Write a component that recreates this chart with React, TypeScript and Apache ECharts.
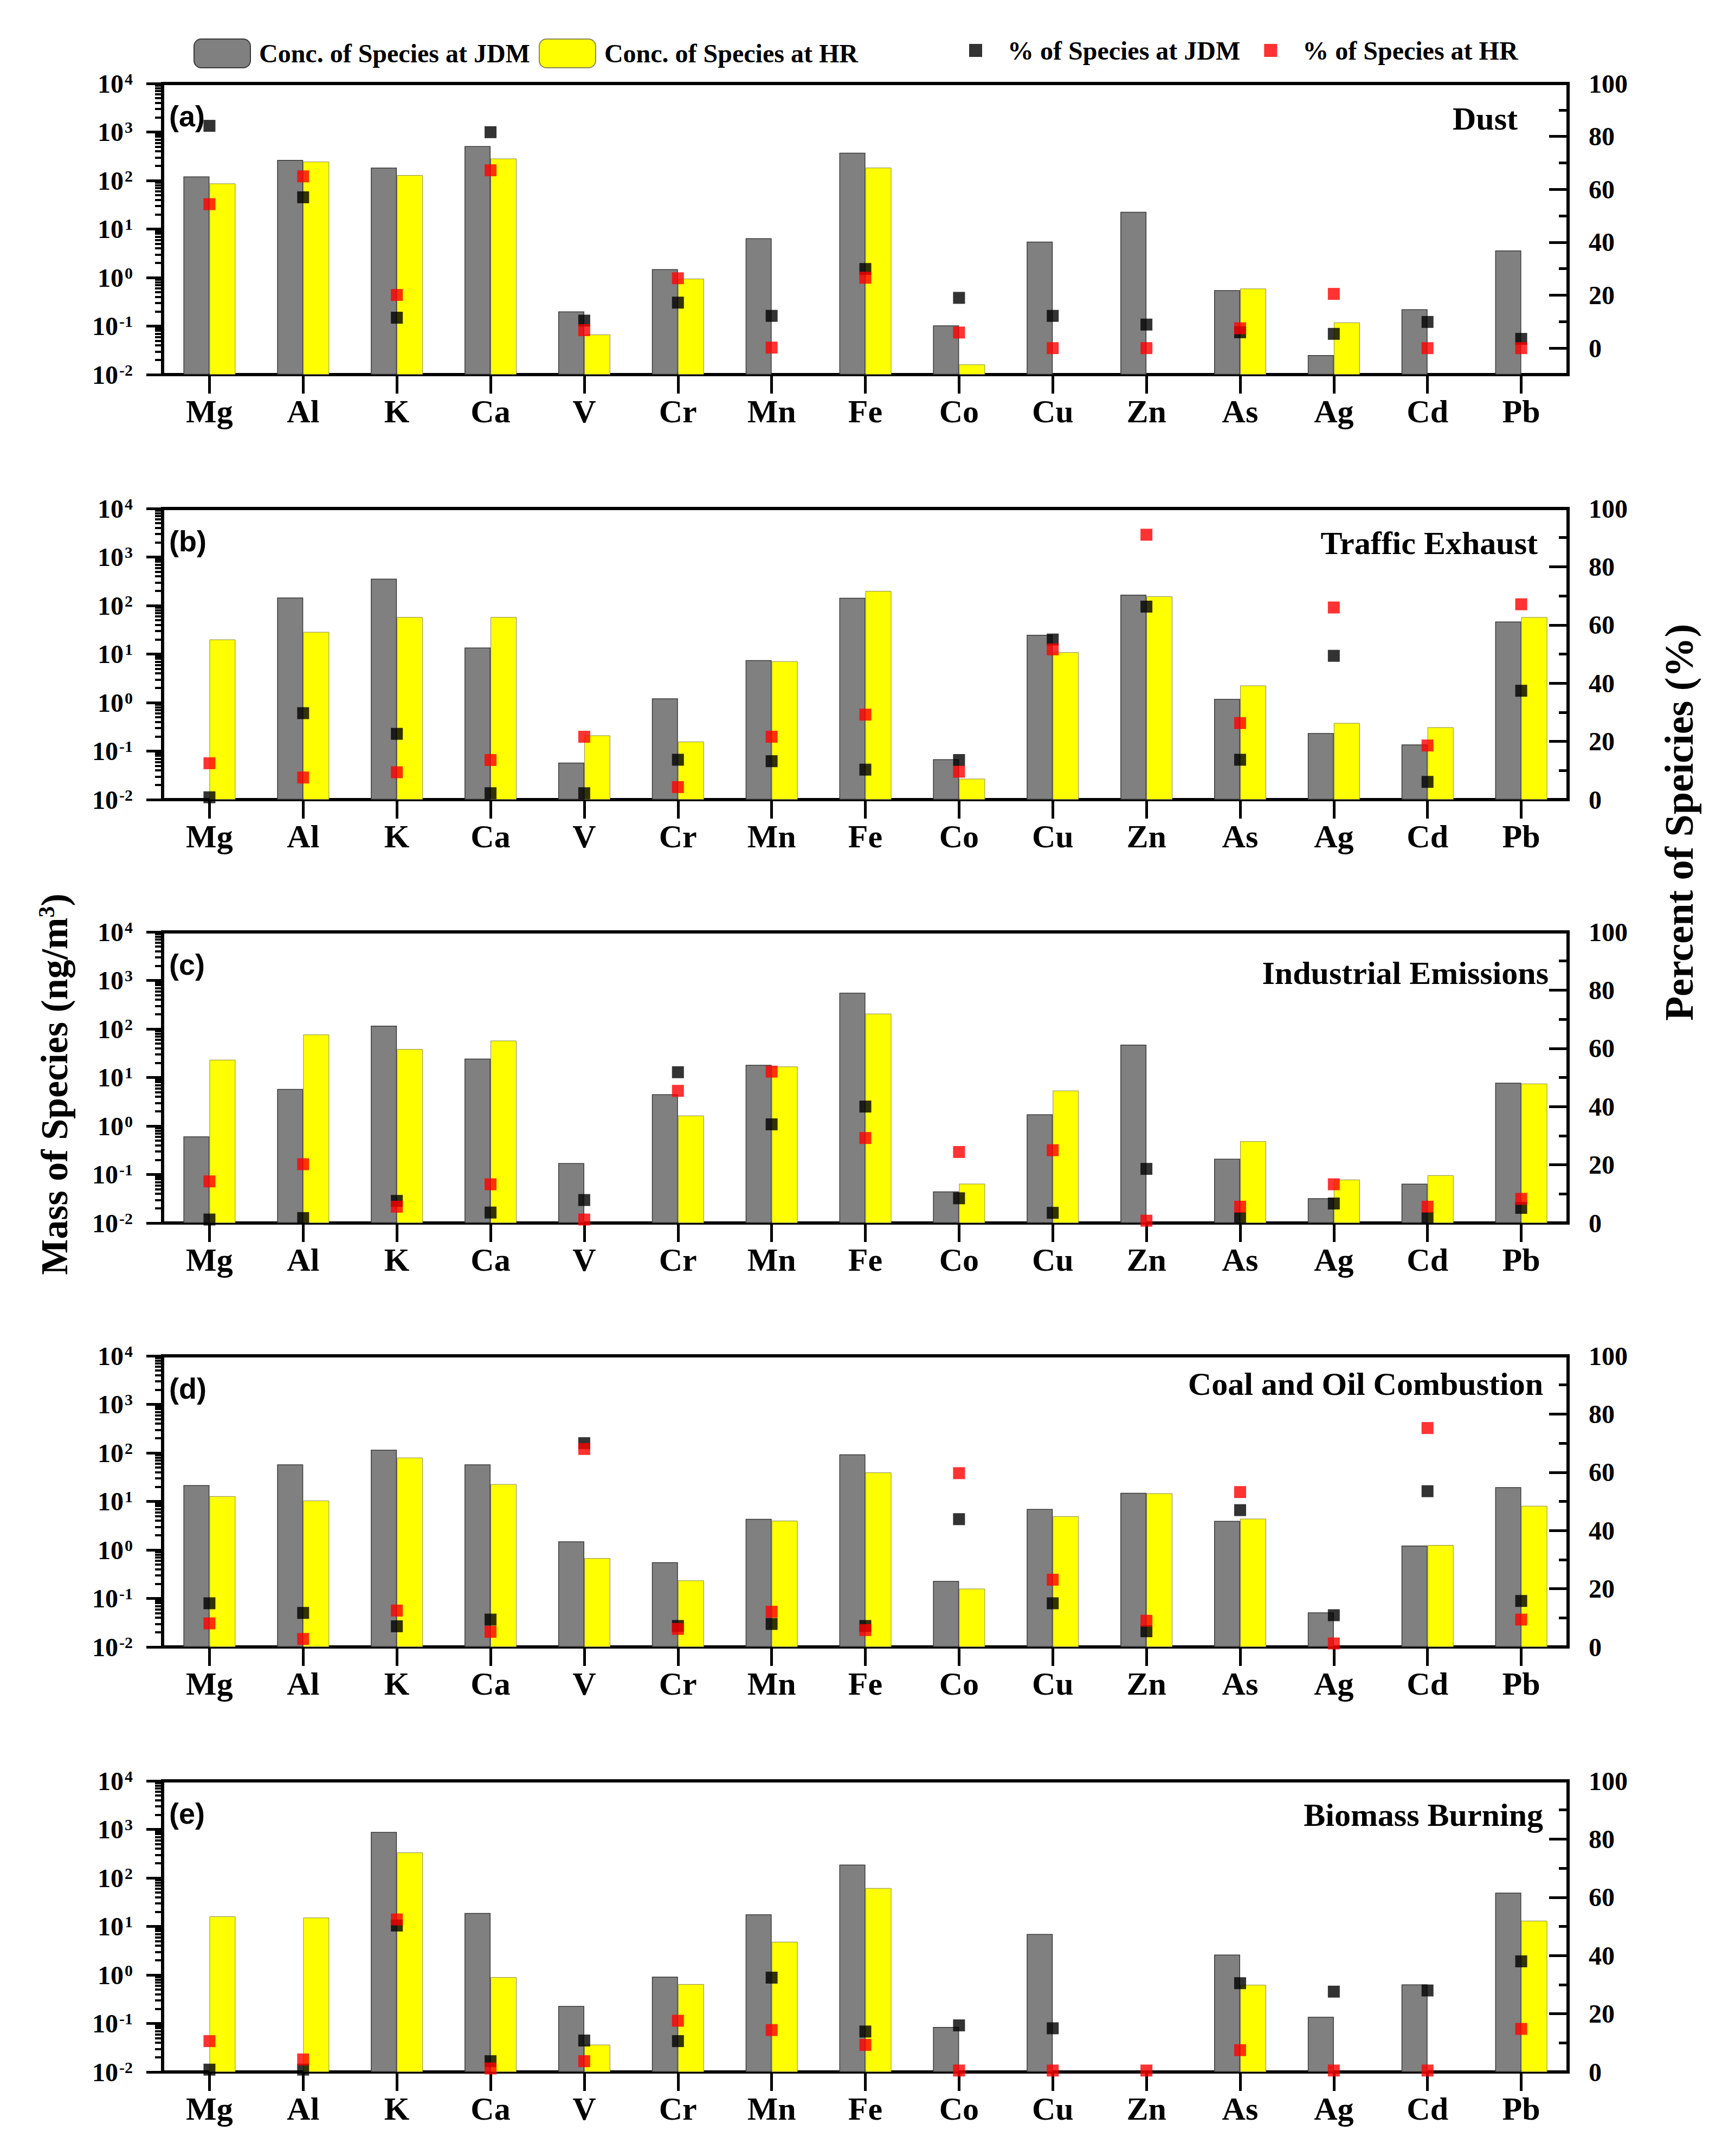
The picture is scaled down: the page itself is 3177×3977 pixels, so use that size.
import React, { useEffect, useRef } from "react";
import * as echarts from "echarts";

const categories = ["Mg", "Al", "K", "Ca", "V", "Cr", "Mn", "Fe", "Co", "Cu", "Zn", "As", "Ag", "Cd", "Pb"];
const panelLetters = ["(a)", "(b)", "(c)", "(d)", "(e)"];
const panelSources = ["Dust", "Traffic Exhaust", "Industrial Emissions", "Coal and Oil Combustion", "Biomass Burning"];
const legendBarNames = ["Conc. of Species at JDM", "Conc. of Species at HR"];
const legendPctNames = ["% of Species at JDM", "% of Species at HR"];
const logTickValues = [0.01, 0.1, 1, 10, 100, 1000, 10000];
const percentLabelValues = [0, 20, 40, 60, 80, 100];
const percentMajorTicks = [0, 20, 40, 60, 80];
const percentMinorTicks = [10, 30, 50, 70, 90];
const percentMin = [-10, 0, 0, 0, 0];

// (a) Dust
const concJDM_a = [121, 266, 184, 512, 0.2, 1.49, 6.44, 373, 0.103, 5.5, 22.6, 0.55, 0.0253, 0.222, 3.62];
const concHR_a = [87, 245, 129, 284, 0.067, 0.95, null, 184, 0.0162, null, null, 0.594, 0.119, null, null];
const pctJDM_a = [84, 57, 11.5, 81.6, 10.4, 17.2, 12.2, 29.9, 19, 12.2, 8.9, 6, 5.4, 9.9, 3.5];
const pctHR_a = [54.4, 64.9, 20.1, 67.2, 6.8, 26.4, 0.2, 26.6, 5.9, 0, 0, 7.5, 20.5, 0, 0];

// (b) Traffic Exhaust
const concJDM_b = [null, 146, 358, 13.6, 0.058, 1.22, 7.5, 144, 0.068, 25, 167, 1.19, 0.235, 0.137, 46.8];
const concHR_b = [20, 28.6, 58, 58, 0.211, 0.157, 7.1, 200, 0.027, 10.9, 155, 2.25, 0.38, 0.31, 57.7];
const pctJDM_b = [0.8, 29.7, 22.6, 2.2, 2.2, 13.7, 13.2, 10.3, 13.6, 55, 66.3, 13.7, 49.4, 6.1, 37.4];
const pctHR_b = [12.5, 7.6, 9.4, 13.6, 21.6, 4.3, 21.6, 29.2, 9.6, 51.6, 91, 26.3, 66, 18.6, 67.1];

// (c) Industrial Emissions
const concJDM_c = [0.61, 5.8, 117, 24.5, 0.172, 4.5, 18.2, 556, 0.0447, 1.74, 47.3, 0.211, 0.0324, 0.0646, 7.76];
const concHR_c = [23.2, 76.7, 38.5, 57.5, null, 1.64, 16.8, 207, 0.0646, 5.37, null, 0.484, 0.0785, 0.0966, 7.5];
const pctJDM_c = [1.2, 1.7, 7.6, 3.6, 7.9, 51.8, 33.9, 40, 8.5, 3.5, 18.6, 1.7, 6.7, 1.7, 5.2];
const pctHR_c = [14.3, 20.2, 5.6, 13.3, 1.2, 45.4, 52, 29.2, 24.4, 25, 0.8, 5.6, 13.3, 5.6, 8.3];

// (d) Coal and Oil Combustion
const concJDM_d = [21.7, 57.7, 116, 57.7, 1.5, 0.557, 4.35, 93, 0.23, 6.97, 15, 3.97, 0.0516, 1.23, 19.6];
const concHR_d = [12.8, 10.4, 80, 22.7, 0.676, 0.235, 4.0, 39.5, 0.159, 4.93, 14.7, 4.4, null, 1.26, 8.1];
const pctJDM_d = [15, 11.7, 7.1, 9.4, 70, 7.2, 7.9, 7.2, 43.9, 15, 5.4, 47, 10.9, 53.5, 15.8];
const pctHR_d = [8.1, 2.75, 12.5, 5.2, 68, 6.2, 12.1, 5.8, 59.7, 23.1, 9, 53.2, 1.2, 75.2, 9.4];

// (e) Biomass Burning
const concJDM_e = [null, null, 887, 18.9, 0.23, 0.92, 17.7, 188, 0.0847, 6.97, null, 2.62, 0.137, 0.638, 49.6];
const concHR_e = [16.1, 15.2, 334, 0.9, 0.0366, 0.646, 4.82, 61.7, null, null, null, 0.625, null, null, 13.1];
const pctJDM_e = [0.8, 0.8, 50.3, 3.7, 10.8, 10.6, 32.4, 13.9, 16, 15, null, 30.5, 27.6, 28, 38];
const pctHR_e = [10.6, 4.3, 52.4, 1.2, 3.7, 17.6, 14.4, 9.3, 0.5, 0.5, 0.5, 7.5, 0.5, 0.5, 14.8];

const concJDM = [concJDM_a, concJDM_b, concJDM_c, concJDM_d, concJDM_e];
const concHR = [concHR_a, concHR_b, concHR_c, concHR_d, concHR_e];
const pctJDM = [pctJDM_a, pctJDM_b, pctJDM_c, pctJDM_d, pctJDM_e];
const pctHR = [pctHR_a, pctHR_b, pctHR_c, pctHR_d, pctHR_e];

const SERIF = "'Liberation Serif', 'DejaVu Serif', serif";
const SANS = "'Liberation Sans', Arial, sans-serif";

const W = 3177;
const H = 3977;
const panelTops = [154, 938, 1719, 2501, 3285];
const panelHeight = 537;
const gridLeft = 300;
const gridRight = 284;
const sourceRight = [2800, 2837, 2857, 2847, 2847];
const sourceBaseline = [85, 84, 96, 72, 83];

const logMinorValues: number[] = [];
for (let e = -2; e <= 3; e++) {
  for (let m = 2; m <= 9; m++) {
    logMinorValues.push(Number((m * Math.pow(10, e)).toPrecision(3)));
  }
}

function buildOption() {
  const grid: any[] = [];
  const xAxis: any[] = [];
  const yAxis: any[] = [];
  const series: any[] = [];
  const graphic: any[] = [];

  for (let i = 0; i < 5; i++) {
    grid.push({
      left: gridLeft,
      right: gridRight,
      top: panelTops[i],
      height: panelHeight,
      show: true,
      borderColor: "#000",
      borderWidth: 6,
      backgroundColor: "transparent",
    });
    xAxis.push({
      type: "category",
      gridIndex: i,
      data: categories,
      boundaryGap: true,
      axisLine: { show: true, onZero: false, lineStyle: { color: "#000", width: 6 } },
      axisTick: { show: true, alignWithLabel: true, length: 35, lineStyle: { color: "#000", width: 5 } },
      axisLabel: {
        interval: 0,
        fontSize: 60,
        fontWeight: "bold",
        fontFamily: SERIF,
        color: "#000",
        margin: 38,
      },
      splitLine: { show: false },
    });
    yAxis.push({
      type: "log",
      gridIndex: i,
      logBase: 10,
      min: 0.01,
      max: 10000,
      startValue: 0.01,
      position: "left",
      axisLine: { show: true, onZero: false, lineStyle: { color: "#000", width: 6 } },
      axisTick: { show: true, length: 30, customValues: logTickValues, lineStyle: { color: "#000", width: 5 } },
      axisLabel: {
        show: true,
        customValues: logTickValues,
        margin: 55,
        fontSize: 48,
        fontWeight: "bold",
        fontFamily: SERIF,
        color: "#000",
        formatter: (v: number) => {
          const e = Math.round(Math.log10(v));
          return "10{sup|" + e + "}";
        },
        rich: {
          sup: {
            fontSize: 30,
            fontWeight: "bold",
            fontFamily: SERIF,
            color: "#000",
            verticalAlign: "top",
            padding: [0, 0, 0, 2],
          },
        },
      },
      splitLine: { show: false },
      minorTick: { show: false },
    });
    yAxis.push({
      type: "log",
      gridIndex: i,
      logBase: 10,
      min: 0.01,
      max: 10000,
      position: "left",
      axisLine: { show: false, onZero: false },
      axisTick: { show: true, length: 14, customValues: logMinorValues, lineStyle: { color: "#000", width: 4 } },
      axisLabel: { show: false },
      splitLine: { show: false },
    });
    yAxis.push({
      type: "value",
      gridIndex: i,
      min: percentMin[i],
      max: 100,
      position: "right",
      axisLine: { show: true, onZero: false, lineStyle: { color: "#000", width: 6 } },
      axisTick: { show: true, inside: true, length: 35, customValues: percentMajorTicks, lineStyle: { color: "#000", width: 5 } },
      axisLabel: {
        show: true,
        customValues: percentLabelValues,
        margin: 38,
        fontSize: 48,
        fontWeight: "bold",
        fontFamily: SERIF,
        color: "#000",
      },
      splitLine: { show: false },
    });
    yAxis.push({
      type: "value",
      gridIndex: i,
      min: percentMin[i],
      max: 100,
      position: "right",
      axisLine: { show: false, onZero: false },
      axisTick: { show: true, inside: true, length: 17, customValues: percentMinorTicks, lineStyle: { color: "#000", width: 5 } },
      axisLabel: { show: false },
      splitLine: { show: false },
    });

    series.push({
      type: "bar",
      name: legendBarNames[0],
      xAxisIndex: i,
      yAxisIndex: 4 * i,
      data: concJDM[i],
      barWidth: 48,
      barGap: "0%",
      itemStyle: { color: "#808080", borderColor: "#3a3a3a", borderWidth: 1.5 },
      z: 2,
    });
    series.push({
      type: "bar",
      name: legendBarNames[1],
      xAxisIndex: i,
      yAxisIndex: 4 * i,
      data: concHR[i],
      barWidth: 48,
      barGap: "0%",
      itemStyle: { color: "#ffff00", borderColor: "#8a8a5a", borderWidth: 1 },
      z: 2,
    });
    series.push({
      type: "scatter",
      name: legendPctNames[0],
      xAxisIndex: i,
      yAxisIndex: 4 * i + 2,
      data: pctJDM[i],
      symbol: "rect",
      symbolSize: 22,
      itemStyle: { color: "#000000" },
      z: 5,
    });
    series.push({
      type: "scatter",
      name: legendPctNames[1],
      xAxisIndex: i,
      yAxisIndex: 4 * i + 2,
      data: pctHR[i],
      symbol: "rect",
      symbolSize: 22,
      itemStyle: { color: "#ff0000" },
      z: 6,
    });

    graphic.push({
      type: "text",
      x: 312,
      y: panelTops[i] + 60,
      z: 100,
      style: {
        text: panelLetters[i],
        fontSize: 54,
        fontWeight: "bold",
        fontFamily: SANS,
        fill: "#000",
        align: "left",
        verticalAlign: "middle",
      },
    });
    graphic.push({
      type: "text",
      x: sourceRight[i],
      y: panelTops[i] + sourceBaseline[i] - 20,
      z: 100,
      style: {
        text: panelSources[i],
        fontSize: 60,
        fontWeight: "bold",
        fontFamily: SERIF,
        fill: "#000",
        align: "right",
        verticalAlign: "middle",
      },
    });
  }

  graphic.push({
    type: "text",
    x: 100,
    y: 2000,
    rotation: Math.PI / 2,
    z: 100,
    style: {
      text: "Mass of Species (ng/m{sup|3})",
      fontSize: 70,
      fontWeight: "bold",
      fontFamily: SERIF,
      fill: "#000",
      align: "center",
      verticalAlign: "middle",
      rich: {
        sup: { fontSize: 42, fontWeight: "bold", fontFamily: SERIF, fill: "#000", verticalAlign: "top" },
      },
    },
  });
  graphic.push({
    type: "text",
    x: 3098,
    y: 1517,
    rotation: Math.PI / 2,
    z: 100,
    style: {
      text: "Percent of Speicies (%)",
      fontSize: 74,
      fontWeight: "bold",
      fontFamily: SERIF,
      fill: "#000",
      align: "center",
      verticalAlign: "middle",
    },
  });

  return {
    animation: false,
    backgroundColor: "#ffffff",
    legend: [
      {
        data: legendBarNames,
        left: 352,
        top: 66,
        orient: "horizontal",
        itemWidth: 104,
        itemHeight: 53,
        itemGap: 16,
        selectedMode: false,
        textStyle: { fontSize: 48, fontWeight: "bold", fontFamily: SERIF, color: "#000", padding: [0, 0, 0, 11] },
      },
      {
        data: legendPctNames.map((n) => ({ name: n, icon: "rect" })),
        left: 1783,
        top: 64,
        orient: "horizontal",
        itemWidth: 24,
        itemHeight: 24,
        itemGap: 44,
        selectedMode: false,
        textStyle: { fontSize: 48, fontWeight: "bold", fontFamily: SERIF, color: "#000", padding: [0, 0, 0, 42] },
      },
    ],
    grid,
    xAxis,
    yAxis,
    series,
    graphic,
  };
}

export default function App() {
  const ref = useRef<HTMLDivElement>(null);
  useEffect(() => {
    if (!ref.current) return;
    const chart = echarts.init(ref.current, undefined, { renderer: "svg", width: W, height: H });
    chart.setOption(buildOption() as any);
    return () => {
      chart.dispose();
    };
  }, []);
  return (
    <div
      ref={ref}
      style={{ position: "absolute", left: 0, top: 0, width: W, height: H, background: "#fff" }}
    />
  );
}
